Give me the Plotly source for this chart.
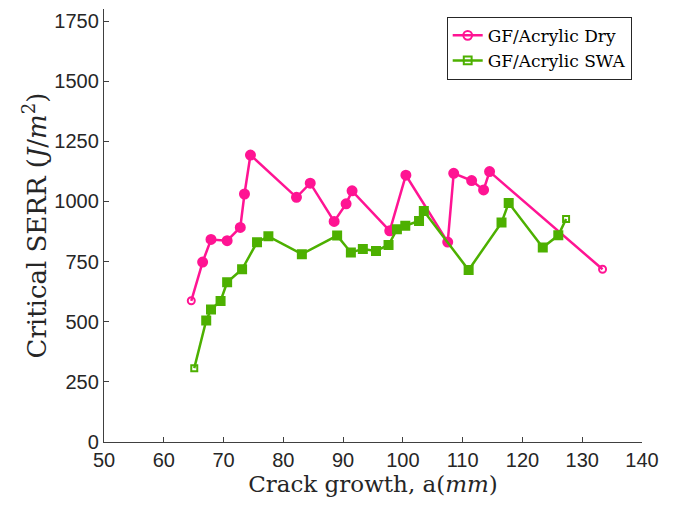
import plotly.graph_objects as go

# Data
dry_a = [64.6, 66.5, 67.9, 70.6, 72.8, 73.5, 74.5, 82.2, 84.5, 88.5, 90.5, 91.5,
         97.8, 100.5, 107.5, 108.5, 111.5, 113.5, 114.5, 133.4]
dry_g = [587, 748, 842, 837, 892, 1031, 1193, 1017, 1076, 917, 990, 1044,
         878, 1109, 831, 1117, 1087, 1048, 1124, 718]

swa_a = [65.1, 67.1, 67.9, 69.5, 70.6, 73.1, 75.6, 77.5, 83.1, 89.0, 91.3, 93.3,
         95.5, 97.6, 99.0, 100.4, 102.7, 103.5, 111.0, 116.5, 117.7, 123.4, 126.0, 127.3]
swa_g = [307, 505, 551, 586, 664, 718, 830, 855, 781, 858, 788, 802,
         794, 819, 884, 899, 919, 960, 715, 912, 994, 809, 859, 927]

x_ticks = [50, 60, 70, 80, 90, 100, 110, 120, 130, 140]
y_ticks = [0, 250, 500, 750, 1000, 1250, 1500, 1750]

PINK = "#FF1493"
GREEN = "#4DB000"
SERIF = "DejaVu Serif, Liberation Serif, serif"


def end_style(n, open_sym, fill_sym, end_size, mid_size):
    syms = [open_sym] + [fill_sym] * (n - 2) + [open_sym]
    sizes = [end_size] + [mid_size] * (n - 2) + [end_size]
    return syms, sizes


dsym, dsize = end_style(len(dry_a), "circle-open", "circle", 7, 9)
ssym, ssize = end_style(len(swa_a), "square-open", "square", 6, 8)

fig = go.Figure()
fig.add_trace(go.Scatter(
    x=dry_a, y=dry_g, mode="lines+markers", name="GF/Acrylic Dry",
    line=dict(color=PINK, width=2.5),
    marker=dict(symbol=dsym, size=dsize, color=PINK, opacity=1,
                line=dict(color=PINK, width=2)),
))
fig.add_trace(go.Scatter(
    x=swa_a, y=swa_g, mode="lines+markers", name="GF/Acrylic SWA",
    line=dict(color=GREEN, width=2.5),
    marker=dict(symbol=ssym, size=ssize, color=GREEN, opacity=1,
                line=dict(color=GREEN, width=2)),
))

axis_common = dict(
    showline=True, linecolor="#404040", linewidth=1.3, mirror=False,
    ticks="inside", ticklen=5, tickwidth=1.2, tickcolor="#404040",
    showgrid=False, zeroline=False,
    tickfont=dict(family="Liberation Sans, Arial, sans-serif", size=20, color="#262626"),
)

fig.update_layout(
    width=675, height=507,
    margin=dict(l=104, r=33, t=9, b=65),
    paper_bgcolor="white", plot_bgcolor="white",
    xaxis=dict(
        range=[50, 140], tickvals=x_ticks, ticktext=[str(v) for v in x_ticks],
        title=dict(text="Crack growth, a(<i>mm</i>)", standoff=4,
                   font=dict(family=SERIF, size=23, color="#262626")),
        **axis_common,
    ),
    yaxis=dict(
        range=[0, 1800], tickvals=y_ticks, ticktext=[str(v) for v in y_ticks],
        title=dict(text="Critical SERR (<i>J</i>/<i>m</i><sup>2</sup>)", standoff=0,
                   font=dict(family=SERIF, size=26, color="#262626")),
        **axis_common,
    ),
    legend=dict(
        x=0.637, y=0.982, xanchor="left", yanchor="top",
        bgcolor="white", bordercolor="#262626", borderwidth=1,
        font=dict(family=SERIF, size=17, color="#000000"),
        tracegroupgap=0, itemwidth=30,
    ),
    showlegend=True,
)

fig.write_html("out.html")
